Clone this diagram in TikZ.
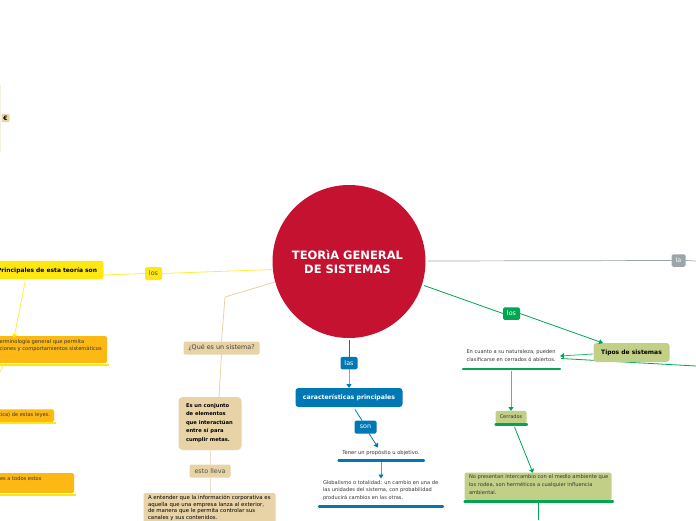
\documentclass[tikz,border=0pt]{standalone}
\usepackage{fontspec}
\setmainfont{DejaVu Sans}
\usetikzlibrary{arrows.meta}
\definecolor{cred}{HTML}{C41230}
\definecolor{cyel}{HTML}{FFE811}
\definecolor{corg}{HTML}{FDB813}
\definecolor{ctan}{HTML}{E8D3A7}
\definecolor{cblu}{HTML}{0078B4}
\definecolor{cgrn}{HTML}{00A651}
\definecolor{colv}{HTML}{C2CF87}
\definecolor{cgry}{HTML}{9AA5AC}
\tikzset{
 x=1pt,y=-1pt,
 every node/.style={inner sep=0pt,outer sep=0pt,font=\fontsize{5.1}{7.5}\selectfont},
 lbl/.style={rounded corners=1.5pt,minimum height=13pt,font=\fontsize{6.4}{8}\selectfont},
 txt/.style={align=left,text=black!80},
 yline/.style={cyel!80,line width=0.8pt},
 tline/.style={ctan,line width=0.8pt},
 bline/.style={cblu,line width=0.8pt},
 gline/.style={cgrn,line width=0.8pt},
 tipb/.style={-{Triangle[length=4pt,width=5pt,color=cblu,fill=cblu]}},
 tipg/.style={-{Triangle[length=4pt,width=5pt,color=cgrn,fill=cgrn]}},
 bar/.style={line width=2.2pt,line cap=round},
}
\begin{document}
\begin{tikzpicture}
\useasboundingbox (0,0) rectangle (696,520);
% coordinates
\coordinate (yb) at (25,282);
\coordinate (ye) at (14,338);
\coordinate (yd) at (0,372);
\coordinate (gfree) at (696,366);
\coordinate (grayfree) at (696,261);
\coordinate (gs) at (561,358.5);
\coordinate (ys) at (273,269.5);
\coordinate (pe) at (103.5,275);
\coordinate (bs) at (349,340);
\coordinate (ge) at (428,261);
% central
\node[circle,fill=cred,minimum size=153pt] (c) at (349,261.5) {};
\node[text=white,align=center,font=\fontsize{11.5}{14}\selectfont\bfseries] (ct) at (347.5,262) {TEORìA GENERAL\\DE SISTEMAS};
% top-left sliver and icon
\draw[ctan!35,line width=0.6pt] (0.5,85) -- (0.5,152);
\node[fill=ctan,minimum size=8pt,rounded corners=1pt,font=\fontsize{6}{7}\selectfont\bfseries] (ic) at (5.5,118) {\char"20AC};
% yellow branch
\node[fill=cyel,rounded corners=2.5pt,minimum height=18.5pt,minimum width=110pt,anchor=east] (p) at (103.5,270) {};
\node[anchor=east,font=\fontsize{5.95}{8}\selectfont\bfseries,text=black] (pt) at (97,270.5) {Principales de esta teoría son};
\node[fill=cyel,lbl,minimum width=17pt] (ylos) at (153.5,273.5) {\textcolor{black!70}{los}};
\draw[yline] (ys) -- (ylos.east);
\draw[yline] (ylos.west) -- (pe);
\node[fill=corg,rounded corners=1.5pt,minimum height=27pt,minimum width=120pt,anchor=east] (o1) at (107,349.5) {};
\node[txt,font=\fontsize{5.15}{7}\selectfont,anchor=west] (o1t) at (-0.5,345.5) {erminología general que permita\\ciones y comportamientos sistemáticos};
\draw[cyel,line width=2pt] (0,364.5) -- (109,364.5);
\draw[yline,-{Triangle[length=4pt,width=5pt,fill=cyel,color=cyel]}] (yb) -- (ye);
\draw[yline] (3,366) -- (yd);
\node[fill=corg,rounded corners=1.5pt,minimum height=12.5pt,minimum width=60pt,anchor=east] (o2) at (54,415.5) {};
\node[txt,font=\fontsize{5.1}{6}\selectfont,anchor=east] (o2t) at (50,415) {tica) de estas leyes.};
\draw[cyel,line width=2pt] (0,423) -- (55.5,423);
\node[fill=corg,rounded corners=1.5pt,minimum height=20pt,minimum width=80pt,anchor=east] (o3) at (74,483) {};
\node[txt,font=\fontsize{5.1}{6}\selectfont,anchor=west] (o3t) at (0,479) {es a todos estos};
\draw[cyel,line width=2pt] (0,494.5) -- (75.5,494.5);
% tan branch
\coordinate (t1) at (225,297);
\coordinate (t0) at (275,282);
\node[fill=ctan,lbl,minimum width=76pt,minimum height=13pt] (q) at (221.5,348) {\textcolor{black!75}{¿Qué es un sistema?}};
\draw[tline] (t0) -- (t1) -- (q.north);
\node[fill=ctan,rounded corners=4pt,minimum width=63pt,minimum height=53pt] (s) at (210,423.5) {};
\node[anchor=west,align=left,font=\fontsize{5.2}{8.5}\selectfont\bfseries] (st) at (186,423) {Es un conjunto\\de elementos\\que interactúan\\entre sí para\\cumplir metas.};
\draw[tline] (q.south) -- (219,397);
\node[fill=ctan,lbl,minimum width=41pt,minimum height=13pt] (ll) at (210,471) {\textcolor{black!70}{esto lleva}};
\draw[tline,ctan!70] (s.south) -- (ll.north);
\node[fill=ctan,rounded corners=1.5pt,minimum width=132pt,minimum height=32pt,anchor=north west] (a) at (143.5,493) {};
\node[anchor=north west,align=left,font=\fontsize{5.4}{6.5}\selectfont] (at) at (148,495.5) {A entender que la información corporativa es\\aquella que una empresa lanza al exterior,\\de manera que le permita controlar sus\\canales y sus contenidos.};
\draw[tline,ctan!70] (ll.south) -- (a.north -| ll);
% blue branch
\node[fill=cblu,lbl,minimum width=17pt,minimum height=12.5pt,text=white] (blas) at (349,363) {las};
\node[fill=cblu,rounded corners=3pt,minimum width=107pt,minimum height=19pt,text=white,font=\fontsize{6.2}{8}\selectfont\bfseries] (car) at (349,397.5) {características principales};
\draw[bline] (bs) -- (blas.north);
\draw[bline,cblu!60,line width=1pt,tipb] (blas.south) -- (car.north);
\node[fill=cblu,lbl,minimum width=22pt,minimum height=13pt,text=white] (son) at (365.5,427) {son};
\draw[bline] (355,409.5) -- (362,420.5);
\draw[bline,tipb] (369,433.5) -- (378,447.5);
\node[txt,font=\fontsize{5.2}{6}\selectfont] (g1) at (381,453) {Tener un propósito u objetivo.};
\draw[cblu,bar] (338.5,460.5) -- (424,460.5);
\draw[bline,cblu!70,tipb] (381,462) -- (381,478.5);
\node[txt,anchor=north west,font=\fontsize{5.1}{7.5}\selectfont] (g2) at (323,480.5) {Globalismo o totalidad: un cambio en una de\\las unidades del sistema, con probabilidad\\producirá cambios en las otras.};
\draw[cblu,bar] (319,506.5) -- (443,506.5);
% green branch
\node[fill=cgrn,lbl,minimum width=17pt,minimum height=12.5pt,text=white] (glos) at (511.5,313.5) {los};
\coordinate (gc) at (424,285.5);
\draw[gline] (gc) -- (glos.west);
\draw[gline] (gs) -- (gfree);
\node[fill=colv,rounded corners=3pt,minimum width=76pt,minimum height=19pt,font=\fontsize{6}{8}\selectfont\bfseries] (ts) at (631.5,352.5) {Tipos de sistemas};
\draw[gline,tipg] (glos.east) -- (603,343);
\node[txt,anchor=north west,font=\fontsize{5.1}{8}\selectfont] (en) at (466.5,349.5) {En cuanto a su naturaleza, pueden\\clasificarse en cerrados ó abiertos.};
\draw[cgrn,bar] (463,369) -- (560,369);
\draw[gline,cgrn!80,tipg] (593,354) -- (560,356);
\draw[gline,cgrn!70,line width=1pt,tipg] (511,371) -- (511,411);
\node[fill=colv,rounded corners=1.5pt,minimum width=31pt,minimum height=12.5pt,font=\fontsize{5}{6}\selectfont] (cer) at (511,417) {\textcolor{black!80}{Cerrados}};
\draw[cgrn,bar] (495.5,424.5) -- (527,424.5);
\draw[gline,tipg] (514.5,427) -- (533,473);
\node[fill=colv,rounded corners=1.5pt,minimum width=147pt,minimum height=27.5pt,anchor=north west] (np) at (464.5,472.5) {};
\node[txt,anchor=north west,font=\fontsize{5.15}{7.6}\selectfont] (npt) at (469,475) {No presentan intercambio con el medio ambiente que\\los rodea, son herméticos a cualquier influencia\\ambiental.};
\draw[cgrn,bar] (464.5,501.5) -- (613,501.5);
\draw[gline] (538,503) -- (538,520);
% gray
\node[fill=cgry,lbl,minimum width=14pt,minimum height=12.5pt,text=white] (la) at (678.5,260.5) {la};
\draw[cgry,line width=0.7pt] (ge) -- (la.west);
\draw[cgry,line width=0.7pt] (la.east) -- (grayfree);
\end{tikzpicture}
\end{document}
